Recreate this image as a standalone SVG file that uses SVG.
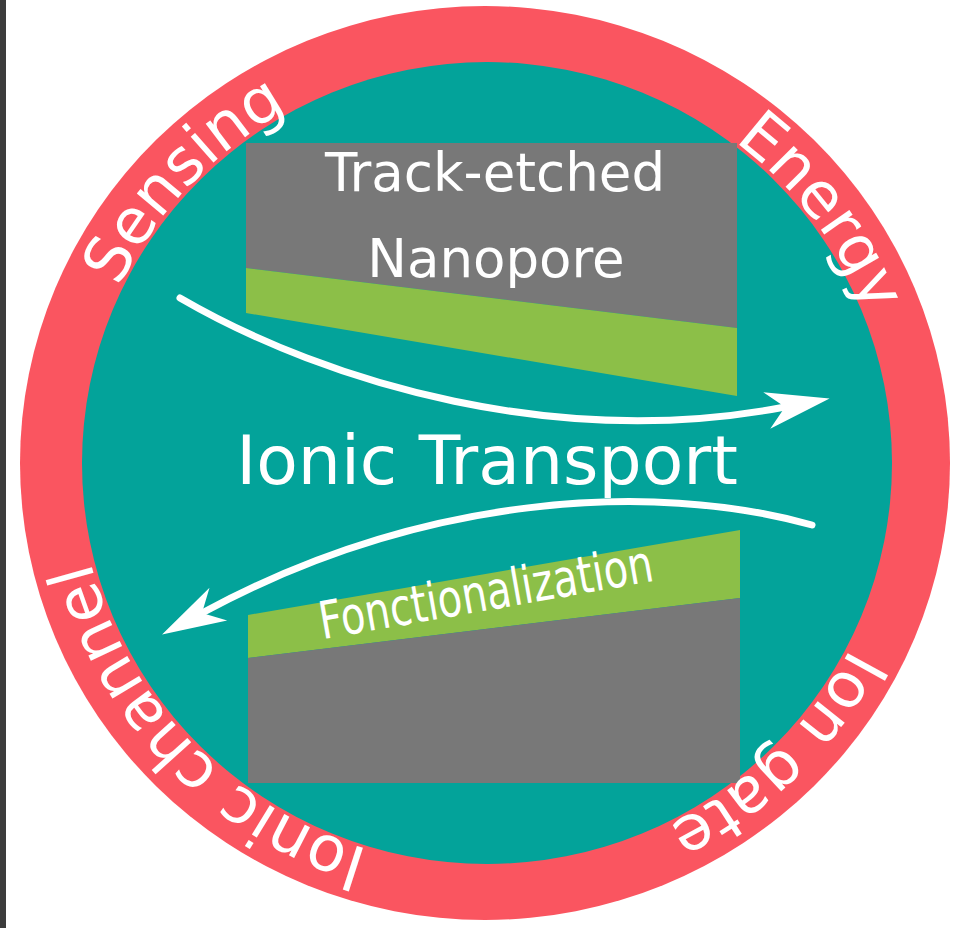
<svg xmlns="http://www.w3.org/2000/svg" width="953" height="928" viewBox="0 0 953 928">
  <style>
    .lbl { font-family: "DejaVu Sans", Verdana, "Liberation Sans", sans-serif; fill: #ffffff; }
    .ring-lbl { font-size: 63px; }
    .flow { fill: none; stroke: #ffffff; stroke-width: 7; stroke-linecap: round; }
    .gray { fill: #787878; }
    .green { fill: #8cbf48; }
  </style>
  <defs>
    <!-- barbed arrowhead; reference point sits in the notch -->
    <marker id="barb" markerUnits="userSpaceOnUse" markerWidth="64" markerHeight="38" viewBox="0 0 62 36" refX="18" refY="18" orient="auto" overflow="visible">
      <path d="M0,0 L62,18 L0,36 L18,18 Z" fill="#ffffff"/>
    </marker>
    <!-- clockwise track just outside the disk edge for the ring labels -->
    <path id="ringTrack" d="M896,463 A409,404 0 1 1 78,463 A409,404 0 1 1 896,463"/>
  </defs>

  <rect width="953" height="928" fill="#ffffff"/>
  <rect x="0" y="0" width="6" height="928" fill="#3c3c3c"/>

  <g id="ring">
    <ellipse cx="485" cy="463" rx="465" ry="457" fill="#fa5560"/>
  </g>
  <g id="disk">
    <ellipse cx="487" cy="463" rx="405" ry="401" fill="#03a39a"/>
  </g>

  <g id="nanopore-top">
    <polygon class="gray" points="246,143 737,143 737,328 246,268"/>
    <polygon class="green" points="246,268 737,328 737,396 246,313"/>
    <text class="lbl" x="495" y="191" font-size="53" text-anchor="middle">Track-etched</text>
    <text class="lbl" x="496" y="277" font-size="53" text-anchor="middle">Nanopore</text>
  </g>

  <g id="nanopore-bottom">
    <polygon class="green" points="248,615 740,530 740,598 248,658"/>
    <polygon class="gray" points="248,658 740,598 740,783 248,783"/>
    <text class="lbl" transform="translate(489,610) rotate(-10)" font-size="52" text-anchor="middle" textLength="338" lengthAdjust="spacingAndGlyphs">Fonctionalization</text>
  </g>

  <g id="transport">
    <text class="lbl" x="487" y="484" font-size="68" text-anchor="middle">Ionic Transport</text>
  </g>

  <g id="connectors">
    <path class="flow" d="M180,298 C330,385 560,450 785,407" marker-end="url(#barb)"/>
    <path class="flow" d="M812,525 C650,480 420,495 202,613" marker-end="url(#barb)"/>
  </g>

  <g id="ring-labels" class="lbl ring-lbl">
    <text><textPath href="#ringTrack" startOffset="12.6%" text-anchor="middle">Ion gate</textPath></text>
    <text><textPath href="#ringTrack" startOffset="37.9%" text-anchor="middle">Ionic channel</textPath></text>
    <text><textPath href="#ringTrack" startOffset="62.0%" text-anchor="middle">Sensing</textPath></text>
    <text><textPath href="#ringTrack" startOffset="89.7%" text-anchor="middle">Energy</textPath></text>
  </g>
</svg>
